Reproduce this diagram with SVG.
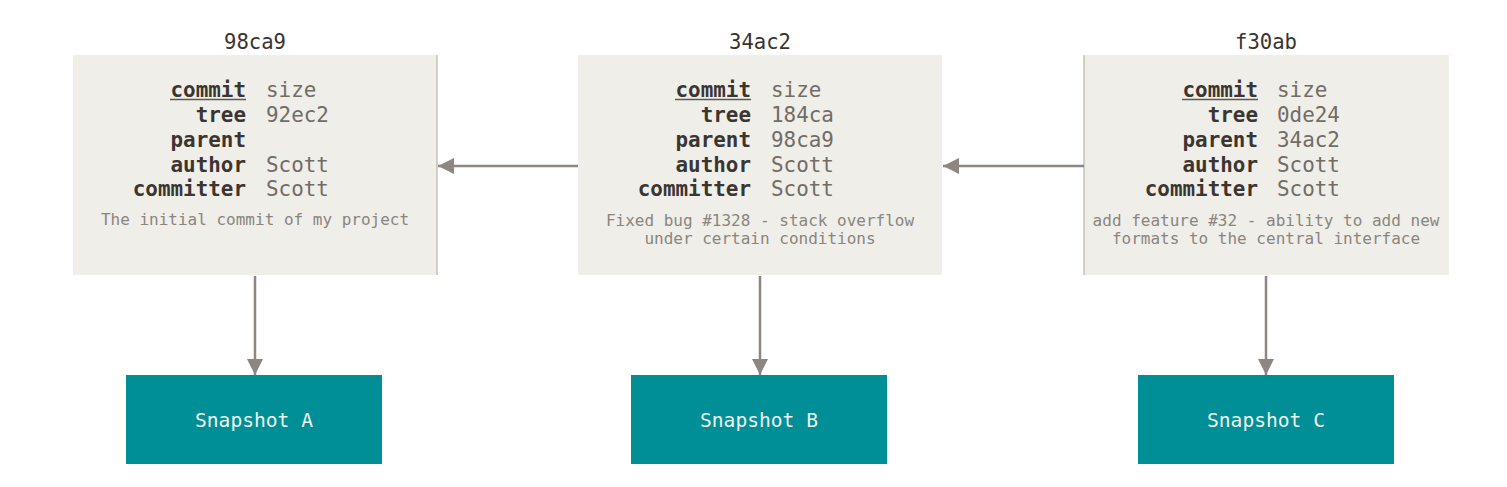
<svg xmlns="http://www.w3.org/2000/svg" width="1507" height="487" viewBox="0 0 1507 487">
<style>
.box{fill:#efeee8}
.edge{stroke:#b9b5ae;stroke-width:1.2}
.title{font-family:"DejaVu Sans Mono","Liberation Mono",monospace;font-size:20.6px;fill:#3a3430;text-anchor:middle}
.lbl{font-family:"DejaVu Sans Mono","Liberation Mono",monospace;font-size:20.9px;font-weight:bold;fill:#3b3531;text-anchor:end}
.val{font-family:"DejaVu Sans Mono","Liberation Mono",monospace;font-size:20.9px;fill:#716c66}
.desc{font-family:"DejaVu Sans Mono","Liberation Mono",monospace;font-size:16px;fill:#8a857f;text-anchor:middle}
.snap{fill:#008f96}
.snaptxt{font-family:"DejaVu Sans Mono","Liberation Mono",monospace;font-size:19.6px;fill:#f2f2ee;text-anchor:middle}
.ul{stroke:#5e5853;stroke-width:1.6}
.conn{stroke:#8c8782;stroke-width:2.5;fill:none}
</style>
<defs>
<marker id="ah" viewBox="0 0 16 16" refX="16" refY="8" markerWidth="16" markerHeight="16" markerUnits="userSpaceOnUse" orient="auto">
<path d="M0,0 L16,8 L0,16 Z" fill="#8c8782"/>
</marker>
</defs>

<g id="commit-98ca9">
<text class="title" x="255" y="49">98ca9</text>
<rect class="box" x="73" y="55" width="364" height="220"/>
<line class="edge" x1="437" y1="55" x2="437" y2="275"/>
<text class="lbl" x="246" y="97">commit</text>
<line class="ul" x1="170" y1="99.5" x2="246" y2="99.5"/>
<text class="val" x="266" y="97">size</text>
<text class="lbl" x="246" y="122">tree</text>
<text class="val" x="266" y="122">92ec2</text>
<text class="lbl" x="246" y="147">parent</text>
<text class="lbl" x="246" y="172">author</text>
<text class="val" x="266" y="172">Scott</text>
<text class="lbl" x="246" y="196">committer</text>
<text class="val" x="266" y="196">Scott</text>
<text class="desc" x="255" y="225">The initial commit of my project</text>
</g>

<g id="commit-34ac2">
<text class="title" x="760" y="49">34ac2</text>
<rect class="box" x="578" y="55" width="364" height="220"/>
<text class="lbl" x="751" y="97">commit</text>
<line class="ul" x1="675" y1="99.5" x2="751" y2="99.5"/>
<text class="val" x="771" y="97">size</text>
<text class="lbl" x="751" y="122">tree</text>
<text class="val" x="771" y="122">184ca</text>
<text class="lbl" x="751" y="147">parent</text>
<text class="val" x="771" y="147">98ca9</text>
<text class="lbl" x="751" y="172">author</text>
<text class="val" x="771" y="172">Scott</text>
<text class="lbl" x="751" y="196">committer</text>
<text class="val" x="771" y="196">Scott</text>
<text class="desc" x="760" y="226">Fixed bug #1328 - stack overflow</text>
<text class="desc" x="760" y="244">under certain conditions</text>
</g>

<g id="commit-f30ab">
<text class="title" x="1266" y="49">f30ab</text>
<rect class="box" x="1084" y="55" width="365" height="220"/>
<line class="edge" x1="1084" y1="55" x2="1084" y2="275"/>
<text class="lbl" x="1258" y="97">commit</text>
<line class="ul" x1="1182" y1="99.5" x2="1258" y2="99.5"/>
<text class="val" x="1277" y="97">size</text>
<text class="lbl" x="1258" y="122">tree</text>
<text class="val" x="1277" y="122">0de24</text>
<text class="lbl" x="1258" y="147">parent</text>
<text class="val" x="1277" y="147">34ac2</text>
<text class="lbl" x="1258" y="172">author</text>
<text class="val" x="1277" y="172">Scott</text>
<text class="lbl" x="1258" y="196">committer</text>
<text class="val" x="1277" y="196">Scott</text>
<text class="desc" x="1266" y="226">add feature #32 - ability to add new</text>
<text class="desc" x="1266" y="244">formats to the central interface</text>
</g>

<g id="snapshot-a">
<rect class="snap" x="126" y="375" width="256" height="89"/>
<text class="snaptxt" x="254" y="427">Snapshot A</text>
</g>
<g id="snapshot-b">
<rect class="snap" x="631" y="375" width="256" height="89"/>
<text class="snaptxt" x="759" y="427">Snapshot B</text>
</g>
<g id="snapshot-c">
<rect class="snap" x="1138" y="375" width="256" height="89"/>
<text class="snaptxt" x="1266" y="427">Snapshot C</text>
</g>

<g id="connectors">
<line class="conn" x1="578" y1="166" x2="438" y2="166" marker-end="url(#ah)"/>
<line class="conn" x1="1084" y1="166" x2="943" y2="166" marker-end="url(#ah)"/>
<line class="conn" x1="255" y1="276" x2="255" y2="375" marker-end="url(#ah)"/>
<line class="conn" x1="760" y1="276" x2="760" y2="375" marker-end="url(#ah)"/>
<line class="conn" x1="1266" y1="276" x2="1266" y2="375" marker-end="url(#ah)"/>
</g>
</svg>
